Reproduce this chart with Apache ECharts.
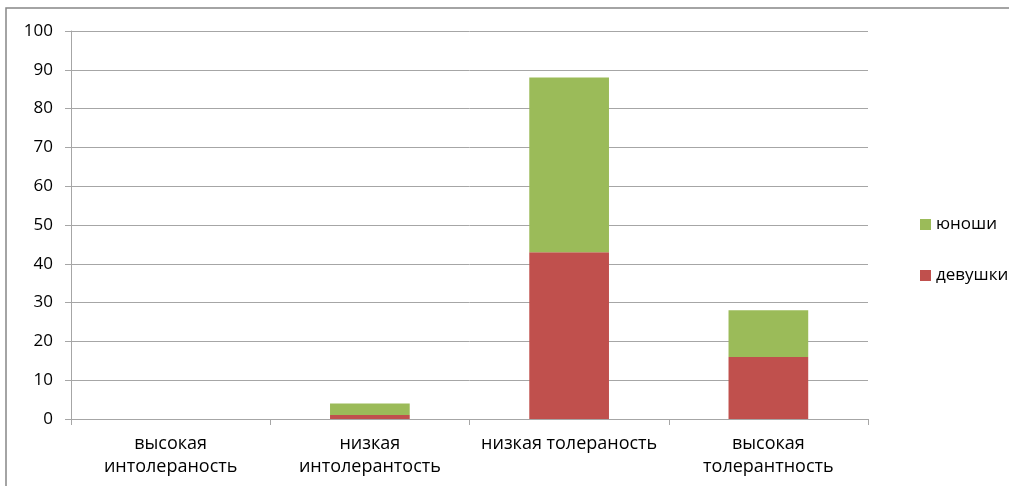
<!DOCTYPE html>
<html>
<head>
<meta charset="utf-8">
<script src="https://cdn.jsdelivr.net/npm/echarts@6/dist/echarts.min.js"></script>
<style>
  html, body { margin: 0; padding: 0; background: #fff; }
  #chart { width: 1009px; height: 486px; }
</style>
</head>
<body>
<div id="chart"></div>
<script>
// Tolerance levels by group
const categories = [
  'высокая\nинтолераность',
  'низкая\nинтолерантость',
  'низкая толераность',
  'высокая\nтолерантность'
];
const girls = [0, 1, 43, 16];   // девушки
const boys  = [0, 3, 45, 12];   // юноши
const yTicks = { min: 0, max: 100, interval: 10 };

const FONT = '"Open Sans", "Liberation Sans", sans-serif';
const chart = echarts.init(document.getElementById('chart'), null, { renderer: 'canvas' });

chart.setOption({
  animation: false,
  backgroundColor: '#ffffff',
  textStyle: { fontFamily: FONT },
  graphic: [{
    type: 'rect',
    shape: { x: 6, y: 8, width: 1200, height: 600 },
    style: { fill: 'none', stroke: '#878787', lineWidth: 1.5 },
    silent: true,
    z: -1
  }],
  grid: { left: 71, right: 141, top: 31, bottom: 67, containLabel: false },
  legend: {
    orient: 'vertical',
    left: 915,
    top: 211,
    itemGap: 34,
    itemWidth: 11,
    itemHeight: 11,
    icon: 'rect',
    data: ['юноши', 'девушки'],
    textStyle: { fontFamily: FONT, fontSize: 17, color: '#000' }
  },
  xAxis: {
    type: 'category',
    data: categories,
    axisLine: { lineStyle: { color: '#a6a6a6', width: 1 } },
    axisTick: { show: true, alignWithLabel: false, length: 6, lineStyle: { color: '#a6a6a6' } },
    axisLabel: {
      interval: 0,
      color: '#000',
      fontFamily: FONT,
      fontSize: 18,
      lineHeight: 23,
      margin: 13
    },
    splitLine: { show: false }
  },
  yAxis: {
    type: 'value',
    min: yTicks.min,
    max: yTicks.max,
    interval: yTicks.interval,
    axisLine: { show: true, lineStyle: { color: '#a6a6a6', width: 1 } },
    axisTick: { show: true, length: 6, lineStyle: { color: '#a6a6a6' } },
    axisLabel: { color: '#000', fontFamily: FONT, fontSize: 17, margin: 18 },
    splitLine: { show: true, lineStyle: { color: '#a6a6a6', width: 1 } }
  },
  series: [
    {
      name: 'девушки',
      type: 'bar',
      stack: 'total',
      data: girls,
      barWidth: '40%',
      itemStyle: { color: '#C0504D' }
    },
    {
      name: 'юноши',
      type: 'bar',
      stack: 'total',
      data: boys,
      barWidth: '40%',
      itemStyle: { color: '#9BBB59' }
    }
  ]
});
</script>
</body>
</html>
